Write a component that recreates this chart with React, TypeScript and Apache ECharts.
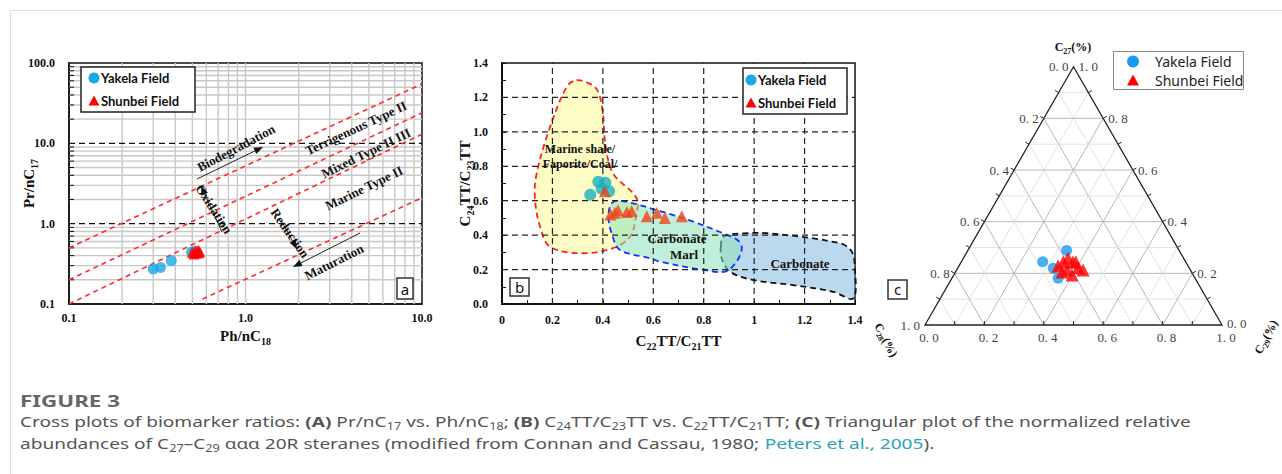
import React, { useEffect, useRef } from 'react';
import * as echarts from 'echarts';

const SERIF = '"Liberation Serif", "Times New Roman", serif';
const SANS = 'Lato, "Noto Sans", sans-serif';
const CAP = '"Noto Sans", "Open Sans", sans-serif';

// ---------- Panel (a): Pr/nC17 vs Ph/nC18 ----------
const aGridX = [0.2, 0.3, 0.4, 0.5, 0.6, 0.7, 0.8, 0.9, 1, 2, 3, 4, 5, 6, 7, 8, 9];
const aGridY = [0.2, 0.3, 0.4, 0.5, 0.6, 0.7, 0.8, 0.9, 2, 3, 4, 5, 6, 7, 8, 9, 20, 30, 40, 50, 60, 70, 80, 90];
const aDashedY = [1, 10];
const aFacies = [
  [[0.1, 0.5], [10, 55]],
  [[0.1, 0.2], [10, 24]],
  [[0.1, 0.1], [10, 13]],
  [[0.57, 0.115], [10, 2.1]],
];
const aYakela = [[0.3, 0.272], [0.33, 0.285], [0.38, 0.345], [0.495, 0.44], [0.53, 0.43], [0.515, 0.455]];
const aShunbei = [[0.5, 0.44], [0.52, 0.46], [0.54, 0.47], [0.55, 0.45], [0.53, 0.43], [0.51, 0.42], [0.545, 0.435]];
const aNotes = [
  { t: 'Biodegradation', x: 236, y: 148, r: 28 },
  { t: 'Terrigenous Type II', x: 356, y: 128, r: 25 },
  { t: 'Mixed Type II III', x: 366, y: 153, r: 26 },
  { t: 'Marine Type II', x: 364, y: 188, r: 26 },
  { t: 'Oxidation', x: 214, y: 209, r: -57 },
  { t: 'Reduction', x: 290, y: 233, r: -55 },
  { t: 'Maturation', x: 334, y: 262, r: 27 },
];

// ---------- Panel (b): C24TT/C23TT vs C22TT/C21TT ----------
const bTicks = [0.2, 0.4, 0.6, 0.8, 1.0, 1.2];
const bMarineZone = [[0.296, 1.3], [0.36, 1.27], [0.385, 1.22], [0.4, 1.11], [0.41, 0.93], [0.44, 0.76], [0.534, 0.614], [0.53, 0.498], [0.508, 0.391], [0.44, 0.324], [0.309, 0.295], [0.19, 0.333], [0.151, 0.449], [0.131, 0.604], [0.135, 0.74], [0.184, 1.0], [0.256, 1.26]];
const bMarlZone = [[0.435, 0.585], [0.47, 0.6], [0.627, 0.54], [0.759, 0.478], [0.878, 0.41], [0.935, 0.37], [0.951, 0.324], [0.93, 0.246], [0.884, 0.188], [0.798, 0.198], [0.627, 0.246], [0.587, 0.266], [0.468, 0.314], [0.435, 0.41], [0.422, 0.507]];
const bCarbonateZone = [[0.868, 0.333], [0.878, 0.391], [0.957, 0.41], [1.063, 0.41], [1.34, 0.353], [1.387, 0.304], [1.4, 0.198], [1.393, 0.033], [1.314, 0.071], [1.155, 0.11], [0.997, 0.139], [0.904, 0.188], [0.871, 0.266]];
const bYakela = [[0.35, 0.635], [0.382, 0.71], [0.41, 0.705], [0.425, 0.655], [0.395, 0.67]];
const bShunbei = [[0.408, 0.655], [0.43, 0.52], [0.448, 0.53], [0.46, 0.545], [0.495, 0.535], [0.514, 0.54], [0.574, 0.51], [0.614, 0.53], [0.646, 0.5], [0.713, 0.51]];

// ---------- Panel (c): ternary C27 / C28 / C29 (fractions) ----------
const cTicks = [0.1, 0.2, 0.3, 0.4, 0.5, 0.6, 0.7, 0.8, 0.9];
const cLabels = [0, 0.2, 0.4, 0.6, 0.8, 1.0];
// [C27, C28, C29]
const cYakela = [[0.288, 0.379, 0.333], [0.245, 0.481, 0.274], [0.181, 0.461, 0.358], [0.22, 0.458, 0.322]];
const cShunbei = [[0.244, 0.413, 0.343], [0.259, 0.389, 0.352], [0.244, 0.38, 0.376], [0.221, 0.374, 0.405], [0.213, 0.361, 0.426], [0.213, 0.415, 0.372], [0.194, 0.408, 0.398], [0.205, 0.436, 0.359], [0.228, 0.438, 0.334], [0.244, 0.37, 0.386]];

const toTern = (d: number[]) => [d[2] + d[0] / 2, d[0]];
const deg = Math.PI / 180;

function arrow(x1: number, y1: number, x2: number, y2: number) {
  const dx = x2 - x1, dy = y2 - y1, len = Math.hypot(dx, dy);
  const ux = dx / len, uy = dy / len, hl = 9, hw = 3.5;
  const bx = x2 - ux * hl, by = y2 - uy * hl;
  return [
    { type: 'line', z: 20, shape: { x1, y1, x2: bx, y2: by }, style: { stroke: '#222', lineWidth: 1 } },
    { type: 'polygon', z: 20, shape: { points: [[x2, y2], [bx - uy * hw, by + ux * hw], [bx + uy * hw, by - ux * hw]] }, style: { fill: '#111' } },
  ];
}

function tri(cx: number, cy: number, s: number, fill: string) {
  const h = s * 0.9;
  return { type: 'polygon', z: 20, shape: { points: [[cx, cy - h / 2], [cx - s / 2, cy + h / 2], [cx + s / 2, cy + h / 2]] }, style: { fill } };
}

function txt(text: string, x: number, y: number, o: any = {}) {
  return {
    type: 'text', x, y, z: 20, rotation: o.r ? o.r * deg : 0, scaleX: o.sx || 1,
    style: {
      text, fontFamily: o.ff || SERIF, fontSize: o.fs || 13, fontWeight: o.fw || 'bold',
      fill: o.fill || '#111', align: o.align || 'center', verticalAlign: 'middle', rich: o.rich,
      lineHeight: o.lh,
    },
  };
}

const subName = (fs: number) => ({
  fontFamily: SERIF, fontWeight: 'bold', fontSize: fs, color: '#111', lineHeight: 20,
  rich: { s: { fontFamily: SERIF, fontWeight: 'bold', fontSize: 10, color: '#111', verticalAlign: 'bottom', lineHeight: 9 } },
});

const tickFont = { fontFamily: SERIF, fontWeight: 'bold', fontSize: 12, color: '#111' };
const ternSub = { s: { fontFamily: SERIF, fontWeight: 'bold', fontSize: 8, verticalAlign: 'bottom', lineHeight: 8, fill: '#111' } };

function buildOption() {
  const ln = (p1: number[], p2: number[], style: any) => ({ type: 'line', shape: { x1: p1[0], y1: p1[1], x2: p2[0], y2: p2[1] }, style });

  const series: any[] = [];

  // Panel a grid lines
  series.push({
    type: 'custom', xAxisIndex: 0, yAxisIndex: 0, silent: true, z: 1, data: [[1, 1]],
    renderItem: (_p: any, api: any) => {
      const ch: any[] = [];
      aGridX.forEach((v) => ch.push(ln(api.coord([v, 0.1]), api.coord([v, 100]), { stroke: '#c8c8c8', lineWidth: 1.4 })));
      aGridY.forEach((v) => {
        const p = api.coord([0.1, v]);
        ch.push(ln(p, api.coord([10, v]), { stroke: '#c8c8c8', lineWidth: 1.4 }));
        ch.push(ln(p, [p[0] + 5, p[1]], { stroke: '#111', lineWidth: 1 }));
      });
      aDashedY.forEach((v) => ch.push(ln(api.coord([0.1, v]), api.coord([10, v]), { stroke: '#111', lineWidth: 1.3, lineDash: [6, 4] })));
      return { type: 'group', children: ch };
    },
  });
  aFacies.forEach((seg) => series.push({
    type: 'line', xAxisIndex: 0, yAxisIndex: 0, data: seg, symbol: 'none', silent: true, z: 2,
    lineStyle: { color: '#ff2a2a', width: 1.6, type: [5, 4] },
  }));
  series.push({ name: 'Yakela Field', type: 'scatter', xAxisIndex: 0, yAxisIndex: 0, data: aYakela, symbol: 'circle', symbolSize: 11, itemStyle: { color: '#1aa8e6' }, z: 3 });
  series.push({ name: 'Shunbei Field', type: 'scatter', xAxisIndex: 0, yAxisIndex: 0, data: aShunbei, symbol: 'triangle', symbolSize: 11, itemStyle: { color: '#ff0000' }, z: 4 });

  // Panel b zones + dashed grid
  series.push({
    type: 'custom', xAxisIndex: 1, yAxisIndex: 1, silent: true, z: 1, data: [[0, 0]],
    renderItem: (_p: any, api: any) => {
      const poly = (pts: number[][], fill: string, stroke: string) => ({
        type: 'polygon', shape: { points: pts.map((p) => api.coord(p)), smooth: 0.35 },
        style: { fill, stroke, lineWidth: 1.8, lineDash: [6, 4] },
      });
      const ch: any[] = [
        poly(bMarineZone, '#fdfcc4', '#ff2020'),
        poly(bCarbonateZone, 'rgba(120,180,222,0.5)', '#111'),
        poly(bMarlZone, 'rgba(140,226,185,0.55)', '#1530ff'),
      ];
      bTicks.forEach((v) => {
        ch.push(ln(api.coord([v, 0]), api.coord([v, 1.4]), { stroke: '#222', lineWidth: 1.2, lineDash: [6, 4] }));
        ch.push(ln(api.coord([0, v]), api.coord([1.4, v]), { stroke: '#222', lineWidth: 1.2, lineDash: [6, 4] }));
      });
      return { type: 'group', children: ch };
    },
  });
  series.push({ name: 'Yakela Field', type: 'scatter', xAxisIndex: 1, yAxisIndex: 1, data: bYakela, symbol: 'circle', symbolSize: 12, itemStyle: { color: '#16b3bf' }, z: 3 });
  series.push({ name: 'Shunbei Field', type: 'scatter', xAxisIndex: 1, yAxisIndex: 1, data: bShunbei, symbol: 'triangle', symbolSize: 12, itemStyle: { color: '#ef431b' }, z: 4 });

  // Panel c ternary frame
  series.push({
    type: 'custom', xAxisIndex: 2, yAxisIndex: 2, silent: true, z: 1, data: [[0, 0]],
    renderItem: (_p: any, api: any) => {
      const P = (c27: number, c29: number) => api.coord([c29 + c27 / 2, c27]);
      const ch: any[] = [];
      cTicks.forEach((t) => {
        const major = Math.round(t * 10) % 2 === 0;
        const st = { stroke: major ? '#b9b9b9' : '#e3e3e3', lineWidth: 1 };
        ch.push(ln(P(t, 0), P(t, 1 - t), st));
        ch.push(ln(P(0, t), P(1 - t, t), st));
        ch.push(ln(P(0, 1 - t), P(1 - t, 0), st));
      });
      ch.push({ type: 'polygon', shape: { points: [P(1, 0), P(0, 0), P(0, 1)] }, style: { fill: 'none', stroke: '#222', lineWidth: 1.3 } });
      const tk = { stroke: '#222', lineWidth: 1 };
      cTicks.forEach((t) => {
        const l = P(1 - t, 0); ch.push(ln(l, [l[0] - 3.5, l[1] - 2], tk));
        const r = P(t, 1 - t); ch.push(ln(r, [r[0] + 3.5, r[1] - 2], tk));
        const b = P(0, t); ch.push(ln(b, [b[0], b[1] - 4], tk));
      });
      const fmt = (v: number) => v.toFixed(1).replace('.', '. ');
      const lab = (s: string, p: number[], dx: number, dy: number, align: string) => ({
        type: 'text', x: p[0] + dx, y: p[1] + dy,
        style: { text: s, fontFamily: SERIF, fontSize: 13, fill: '#444', align, verticalAlign: 'middle' },
      });
      cLabels.forEach((v) => {
        ch.push(lab(fmt(v), P(1 - v, 0), -5, 0, 'right'));
        ch.push(lab(fmt(v), P(v, 1 - v), 5, v === 0 ? -2 : 0, 'left'));
        ch.push(lab(fmt(v), P(0, v), 4, 12, 'center'));
      });
      return { type: 'group', children: ch };
    },
  });
  series.push({ name: 'Yakela Field', type: 'scatter', xAxisIndex: 2, yAxisIndex: 2, data: cYakela.map(toTern), symbol: 'circle', symbolSize: 11, itemStyle: { color: '#1a9af0' }, z: 3 });
  series.push({ name: 'Shunbei Field', type: 'scatter', xAxisIndex: 2, yAxisIndex: 2, data: cShunbei.map(toTern), symbol: 'triangle', symbolSize: 13, itemStyle: { color: '#ff0000' }, z: 4 });

  const graphic: any[] = [
    { type: 'rect', z: 0, shape: { x: 10.5, y: 10.5, width: 1300, height: 500 }, style: { fill: 'none', stroke: '#dedede', lineWidth: 1 } },
    // legend a
    { type: 'rect', z: 15, shape: { x: 81, y: 67, width: 114, height: 45 }, style: { fill: '#fff', stroke: '#222', lineWidth: 1.5 } },
    { type: 'circle', z: 20, shape: { cx: 94, cy: 78, r: 5.5 }, style: { fill: '#1aa8e6' } },
    tri(94, 100.5, 11, '#ff0000'),
    txt('Yakela Field', 101, 78, { ff: SANS, fs: 13, align: 'left' }),
    txt('Shunbei Field', 101, 100.5, { ff: SANS, fs: 13, align: 'left' }),
    // legend b
    { type: 'rect', z: 15, shape: { x: 743, y: 68, width: 104, height: 46 }, style: { fill: '#fff', stroke: '#222', lineWidth: 1.5 } },
    { type: 'circle', z: 20, shape: { cx: 751, cy: 80, r: 5.5 }, style: { fill: '#1aa8e6' } },
    tri(751, 102.5, 11, '#ff0000'),
    txt('Yakela Field', 758, 80, { ff: SANS, fs: 13, align: 'left' }),
    txt('Shunbei Field', 758, 102.5, { ff: SANS, fs: 13, align: 'left' }),
    // legend c
    { type: 'rect', z: 15, shape: { x: 1113.5, y: 51.5, width: 130, height: 38 }, style: { fill: '#fff', stroke: '#8a8a8a', lineWidth: 1 } },
    { type: 'circle', z: 20, shape: { cx: 1133, cy: 61.5, r: 6 }, style: { fill: '#1a9af0' } },
    tri(1133, 80, 12, '#ff0000'),
    txt('Yakela Field', 1155, 61.5, { ff: CAP, fs: 14, fw: 'normal', align: 'left', fill: '#222' }),
    txt('Shunbei Field', 1155, 80, { ff: CAP, fs: 14, fw: 'normal', align: 'left', fill: '#222' }),
    // panel tags
    { type: 'rect', z: 15, shape: { x: 397, y: 278, width: 16, height: 21 }, style: { fill: '#fff', stroke: '#333', lineWidth: 1.5 } },
    txt('a', 405, 288.5, { ff: CAP, fs: 15, fw: 'normal' }),
    { type: 'rect', z: 15, shape: { x: 510, y: 278, width: 19, height: 18 }, style: { fill: '#fff', stroke: '#333', lineWidth: 1.5 } },
    txt('b', 519.5, 287, { ff: CAP, fs: 15, fw: 'normal' }),
    { type: 'rect', z: 15, shape: { x: 888, y: 280, width: 19, height: 19 }, style: { fill: '#fff', stroke: '#333', lineWidth: 1.5 } },
    txt('c', 897.5, 289, { ff: CAP, fs: 15, fw: 'normal' }),
    // panel b zone labels
    txt('Marine shale/', 580, 149, { fs: 12 }),
    txt('Faporite/Coal/', 580, 164, { fs: 12 }),
    txt('Carbonate', 677, 238, { fs: 13 }),
    txt('Marl', 684, 254, { fs: 13 }),
    txt('Carbonate', 800, 263, { fs: 13 }),
    // ternary titles
    txt('C{s|27}(%)', 1073, 47, { fs: 12, lh: 16, rich: ternSub }),
    txt('C{s|28}(%)', 886, 340, { fs: 12, r: -62, lh: 16, rich: ternSub }),
    txt('C{s|29}(%)', 1266, 337, { fs: 12, r: 62, lh: 16, rich: ternSub }),
    // caption
    txt('FIGURE 3', 20, 401, { ff: CAP, fs: 16, fw: 'bold', align: 'left', fill: '#666', sx: 1.4 }),
    {
      type: 'text', x: 20, y: 421, z: 20, scaleX: 1.27,
      style: {
        text: 'Cross plots of biomarker ratios: {b|(A)} Pr/nC{s|17} vs. Ph/nC{s|18}; {b|(B)} C{s|24}TT/C{s|23}TT vs. C{s|22}TT/C{s|21}TT; {b|(C)} Triangular plot of the normalized relative',
        fontFamily: CAP, fontSize: 15, fill: '#555', align: 'left', verticalAlign: 'middle', lineHeight: 20,
        rich: {
          b: { fontFamily: CAP, fontSize: 15, fontWeight: 'bold', fill: '#555', lineHeight: 20 },
          s: { fontFamily: CAP, fontSize: 10, fill: '#555', verticalAlign: 'bottom', lineHeight: 9 },
        },
      },
    },
    {
      type: 'text', x: 20, y: 443, z: 20, scaleX: 1.27,
      style: {
        text: 'abundances of C{s|27}\u2013C{s|29} \u03b1\u03b1\u03b1 20R steranes (modified from Connan and Cassau, 1980; {l|Peters et al., 2005}).',
        fontFamily: CAP, fontSize: 15, fill: '#555', align: 'left', verticalAlign: 'middle', lineHeight: 20,
        rich: {
          l: { fontFamily: CAP, fontSize: 15, fill: '#2aa3b8', lineHeight: 20 },
          s: { fontFamily: CAP, fontSize: 10, fill: '#555', verticalAlign: 'bottom', lineHeight: 9 },
        },
      },
    },
  ];
  aNotes.forEach((n) => graphic.push(txt(n.t, n.x, n.y, { fs: 13, r: n.r })));
  graphic.push(...arrow(197, 179, 263, 147));
  graphic.push(...arrow(222, 232, 201, 186));
  graphic.push(...arrow(282, 222, 297, 249));
  graphic.push(...arrow(360, 233, 293, 267));

  return {
    animation: false,
    backgroundColor: '#fff',
    grid: [
      { left: 69, top: 63, width: 353, height: 241, show: true, borderColor: '#111', borderWidth: 1.5, backgroundColor: 'transparent' },
      { left: 502, top: 63, width: 353, height: 241, show: true, borderColor: '#111', borderWidth: 1.5, backgroundColor: 'transparent' },
      { left: 925, top: 66.7, width: 297, height: 258.3, show: false },
    ],
    xAxis: [
      {
        gridIndex: 0, type: 'log', logBase: 10, min: 0.1, max: 10,
        axisLine: { show: true, lineStyle: { color: '#111', width: 1.5 } }, axisTick: { show: false }, splitLine: { show: false },
        axisLabel: { ...tickFont, margin: 8, formatter: (v: number) => v.toFixed(1) },
        name: 'Ph/nC{s|18}', nameLocation: 'middle', nameGap: 22, nameMoveOverlap: false, nameTextStyle: subName(15),
      },
      {
        gridIndex: 1, type: 'value', min: 0, max: 1.4, interval: 0.2,
        axisLine: { show: true, onZero: false, lineStyle: { color: '#111', width: 2 } },
        axisTick: { show: true, inside: true, length: 4, lineStyle: { color: '#111' } },
        minorTick: { show: true, splitNumber: 2, length: 4, lineStyle: { color: '#111' } },
        splitLine: { show: false },
        axisLabel: { ...tickFont, margin: 10, formatter: (v: number) => (Math.abs(v) < 1e-9 ? '0' : Math.abs(v - 1) < 1e-9 ? '1' : v.toFixed(1)) },
        name: 'C{s|22}TT/C{s|21}TT', nameLocation: 'middle', nameGap: 27, nameMoveOverlap: false, nameTextStyle: subName(15),
      },
      { gridIndex: 2, type: 'value', min: 0, max: 1, show: false },
    ],
    yAxis: [
      {
        gridIndex: 0, type: 'log', logBase: 10, min: 0.1, max: 100,
        axisLine: { show: true, lineStyle: { color: '#111', width: 1.5 } }, axisTick: { show: false }, splitLine: { show: false },
        axisLabel: { ...tickFont, margin: 14, formatter: (v: number) => v.toFixed(1) },
        name: 'Pr/nC{s|17}', nameLocation: 'middle', nameGap: 30, nameMoveOverlap: false, nameTextStyle: subName(15),
      },
      {
        gridIndex: 1, type: 'value', min: 0, max: 1.4, interval: 0.2,
        axisLine: { show: true, onZero: false, lineStyle: { color: '#111', width: 2 } },
        axisTick: { show: true, inside: true, length: 4, lineStyle: { color: '#111' } },
        minorTick: { show: true, splitNumber: 2, length: 4, lineStyle: { color: '#111' } },
        splitLine: { show: false },
        axisLabel: { ...tickFont, margin: 14, formatter: (v: number) => v.toFixed(1) },
        name: 'C{s|24}TT/C{s|23}TT', nameLocation: 'middle', nameGap: 27, nameMoveOverlap: false, nameTextStyle: subName(15),
      },
      { gridIndex: 2, type: 'value', min: 0, max: 1, show: false },
    ],
    series,
    graphic,
  };
}

export default function App() {
  const ref = useRef<HTMLDivElement>(null);
  useEffect(() => {
    document.body.style.margin = '0';
    const chart = echarts.init(ref.current as HTMLDivElement, undefined, { renderer: 'svg' });
    chart.setOption(buildOption() as any);
    return () => chart.dispose();
  }, []);
  return <div ref={ref} style={{ position: 'absolute', left: 0, top: 0, width: 1282, height: 474, background: '#fff' }} />;
}
